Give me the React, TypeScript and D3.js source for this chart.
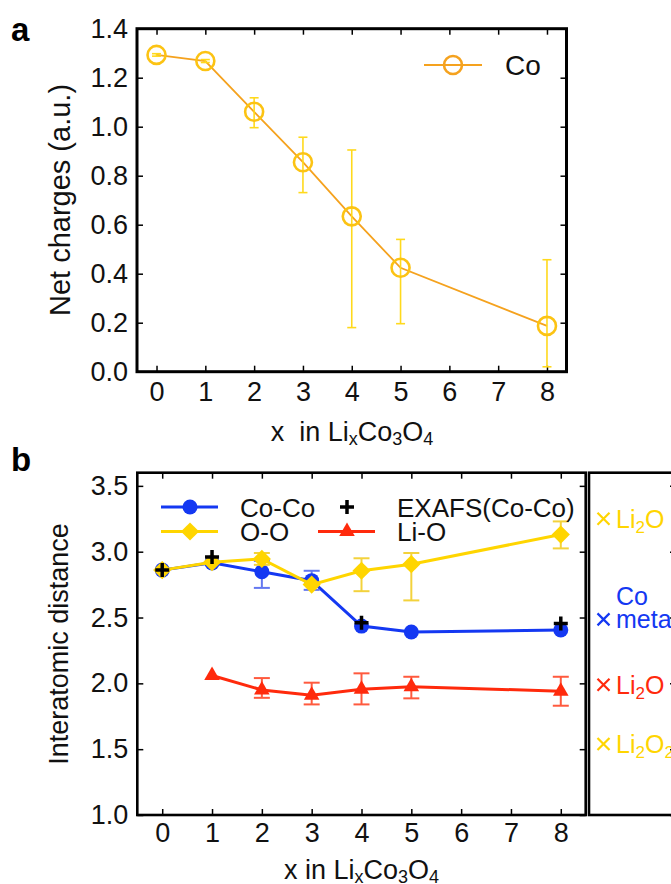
import * as d3 from "d3";
import React, { useEffect, useRef } from "react";

const W = 671;
const H = 884;
const FONT = "'Liberation Sans', Arial, Helvetica, sans-serif";

// panel a : net charge on Co
const xA = [0, 1, 2, 3, 4, 5, 8];
const coCharge = [1.293, 1.268, 1.061, 0.855, 0.634, 0.424, 0.187];
const coChargeLo = [1.288, 1.262, 0.996, 0.731, 0.18, 0.196, 0.02];
const coChargeHi = [1.298, 1.274, 1.118, 0.957, 0.905, 0.54, 0.457];
const xTicks = [0, 1, 2, 3, 4, 5, 6, 7, 8];
const yTicksA = [0, 0.2, 0.4, 0.6, 0.8, 1.0, 1.2, 1.4];

// panel b : interatomic distances
const xB = [0, 1, 2, 3, 4, 5, 8];
const coCo = [2.86, 2.915, 2.848, 2.78, 2.435, 2.39, 2.405];
const coCoLo = [null, null, 2.725, 2.71, null, null, null];
const coCoHi = [null, null, 2.93, 2.855, null, null, null];
const oO = [2.86, 2.92, 2.945, 2.75, 2.855, 2.905, 3.13];
const oOLo = [null, null, 2.9, null, 2.7, 2.63, 3.025];
const oOHi = [null, null, 2.99, null, 2.95, 2.99, 3.23];
const xLiO = [1, 2, 3, 4, 5, 8];
const liO = [2.06, 1.95, 1.91, 1.955, 1.975, 1.94];
const liOLo = [null, 1.89, 1.84, 1.84, 1.886, 1.83];
const liOHi = [null, 2.04, 2.005, 2.076, 2.05, 2.05];
const xExafs = [0, 1, 4, 8];
const exafs = [2.86, 2.96, 2.46, 2.455];
const yTicksB = [1.0, 1.5, 2.0, 2.5, 3.0, 3.5];

// reference compounds in the side strip
const refValues = [3.25, 2.486, 1.99, 1.54];
const refKinds = ["oo", "coco", "lio", "oo"];
const refLabels = ["Li_2O", "Co\nmetal", "Li_2O", "Li_2O_2"];

const colors = {
  coLine: "#f5a21e",
  coMarker: "#fcc313",
  coErr: "#ffd91c",
  coco: "#1438f2",
  cocoErr: "#6478f0",
  oo: "#ffd500",
  ooErr: "#f3d23c",
  lio: "#ff2a0c",
  lioErr: "#ff5a3e",
};

// appends text with "_x" subscripts
function richText(g, str, x, y, fs, subFs, shift, color) {
  const t = g.append("text").attr("x", x).attr("y", y)
    .attr("font-family", FONT).attr("font-size", fs).attr("fill", color);
  const parts = str.split(/(_.)/).filter(p => p.length);
  let down = false;
  parts.forEach(p => {
    if (p.startsWith("_")) {
      t.append("tspan").attr("font-size", subFs).attr("dy", shift).text(p.slice(1));
      down = true;
    } else {
      t.append("tspan").attr("dy", down ? -shift : 0).text(p);
      down = false;
    }
  });
  return t;
}

function frameAxes(svg, x, y, yTicks, opts) {
  const [x0, x1] = x.range();
  const [y0, y1] = y.range();
  const style = g => {
    g.select(".domain").remove();
    g.selectAll("line").attr("stroke", "#000").attr("stroke-width", 1.5);
    g.selectAll("text").attr("font-family", FONT).attr("font-size", 27).attr("fill", "#111");
  };
  svg.append("g").attr("transform", `translate(0,${y0})`)
    .call(d3.axisBottom(x).tickValues(xTicks).tickSize(-6).tickPadding(opts.xPad).tickFormat(d3.format("d")))
    .call(style);
  svg.append("g").attr("transform", `translate(0,${y1})`)
    .call(d3.axisTop(x).tickValues(xTicks).tickSize(-6).tickFormat(() => ""))
    .call(style);
  svg.append("g").attr("transform", `translate(${x0},0)`)
    .call(d3.axisLeft(y).tickValues(yTicks).tickSize(-6).tickPadding(9).tickFormat(d3.format(".1f")))
    .call(style);
  svg.append("g").attr("transform", `translate(${x1},0)`)
    .call(d3.axisRight(y).tickValues(yTicks).tickSize(-6).tickFormat(() => ""))
    .call(style);
  svg.append("rect")
    .attr("x", x0).attr("y", y1).attr("width", x1 - x0).attr("height", y0 - y1)
    .attr("fill", "none").attr("stroke", "#000").attr("stroke-width", opts.frame);
}

function errorBars(g, x, y, xs, lo, hi, color, width, cap) {
  xs.forEach((xv, i) => {
    if (lo[i] == null || hi[i] == null) return;
    const cx = x(xv);
    g.append("line").attr("x1", cx).attr("x2", cx).attr("y1", y(lo[i])).attr("y2", y(hi[i]))
      .attr("stroke", color).attr("stroke-width", width);
    [lo[i], hi[i]].forEach(v => {
      g.append("line").attr("x1", cx - cap).attr("x2", cx + cap).attr("y1", y(v)).attr("y2", y(v))
        .attr("stroke", color).attr("stroke-width", width);
    });
  });
}

const diamond = d3.symbol().type(d3.symbolSquare).size(165)();
const triangle = d3.symbol().type(d3.symbolTriangle).size(105)();

const App = () => {
  const svgRef = useRef(null);

  useEffect(() => {
    const svg = d3.select(svgRef.current);
    svg.selectAll("*").remove();

    // ---------- panel a ----------
    const xa = d3.scaleLinear().domain([-0.4, 8.4]).range([137, 566.5]);
    const ya = d3.scaleLinear().domain([0, 1.4]).range([371.7, 28.7]);
    frameAxes(svg, xa, ya, yTicksA, { xPad: 10, frame: 3 });

    const ga = svg.append("g");
    ga.append("path")
      .datum(xA.map((v, i) => [v, coCharge[i]]))
      .attr("fill", "none").attr("stroke", colors.coLine).attr("stroke-width", 1.8)
      .attr("d", d3.line().x(d => xa(d[0])).y(d => ya(d[1])));
    errorBars(ga, xa, ya, xA, coChargeLo, coChargeHi, colors.coErr, 1.6, 4.5);
    ga.selectAll("circle.co").data(xA).enter().append("circle")
      .attr("cx", d => xa(d)).attr("cy", (d, i) => ya(coCharge[i])).attr("r", 9)
      .attr("fill", "none").attr("stroke", colors.coMarker).attr("stroke-width", 2.6);

    // legend a
    ga.append("line").attr("x1", 424).attr("x2", 482).attr("y1", 65).attr("y2", 65)
      .attr("stroke", colors.coLine).attr("stroke-width", 1.8);
    ga.append("circle").attr("cx", 453).attr("cy", 65).attr("r", 9)
      .attr("fill", "none").attr("stroke", colors.coLine).attr("stroke-width", 2.6);
    ga.append("text").attr("x", 505).attr("y", 75).attr("font-family", FONT)
      .attr("font-size", 28).attr("fill", "#111").text("Co");

    // axis titles a
    svg.append("text").attr("transform", `translate(70,200) rotate(-90)`)
      .attr("text-anchor", "middle").attr("font-family", FONT).attr("font-size", 29)
      .attr("fill", "#111").text("Net charges (a.u.)");
    richText(svg, "x\u00a0\u00a0in Li_xCo_3O_4", 352, 441, 27, 18, 4, "#111")
      .attr("text-anchor", "middle");
    svg.append("text").attr("x", 11).attr("y", 41).attr("font-family", FONT)
      .attr("font-weight", "bold").attr("font-size", 33).attr("fill", "#000").text("a");

    // ---------- panel b ----------
    const xb = d3.scaleLinear().domain([-0.5, 8.5]).range([137.3, 585.7]);
    const yb = d3.scaleLinear().domain([1.0, 3.6]).range([815, 472.7]);
    frameAxes(svg, xb, yb, yTicksB, { xPad: 8, frame: 2.6 });

    const gb = svg.append("g");
    const lineB = d3.line().x(d => xb(d[0])).y(d => yb(d[1]));

    // Li-O
    gb.append("path").datum(xLiO.map((v, i) => [v, liO[i]]))
      .attr("fill", "none").attr("stroke", colors.lio).attr("stroke-width", 3).attr("d", lineB);
    errorBars(gb, xb, yb, xLiO, liOLo, liOHi, colors.lioErr, 2, 8);
    gb.selectAll("path.lio").data(xLiO).enter().append("path")
      .attr("d", triangle).attr("fill", colors.lio)
      .attr("transform", (d, i) => `translate(${xb(d)},${yb(liO[i])})`);

    // Co-Co
    gb.append("path").datum(xB.map((v, i) => [v, coCo[i]]))
      .attr("fill", "none").attr("stroke", colors.coco).attr("stroke-width", 3).attr("d", lineB);
    errorBars(gb, xb, yb, xB, coCoLo, coCoHi, colors.cocoErr, 2, 8);
    gb.selectAll("circle.coco").data(xB).enter().append("circle")
      .attr("cx", d => xb(d)).attr("cy", (d, i) => yb(coCo[i])).attr("r", 7.5)
      .attr("fill", colors.coco);

    // O-O
    gb.append("path").datum(xB.map((v, i) => [v, oO[i]]))
      .attr("fill", "none").attr("stroke", colors.oo).attr("stroke-width", 3).attr("d", lineB);
    errorBars(gb, xb, yb, xB, oOLo, oOHi, colors.ooErr, 2, 8);
    gb.selectAll("path.oo").data(xB).enter().append("path")
      .attr("d", diamond).attr("fill", colors.oo)
      .attr("transform", (d, i) => `translate(${xb(d)},${yb(oO[i])}) rotate(45)`);

    // EXAFS plus signs
    const plus = (g, cx, cy) => {
      g.append("path").attr("d", `M${cx - 7},${cy}H${cx + 7}M${cx},${cy - 7}V${cy + 7}`)
        .attr("stroke", "#000").attr("stroke-width", 3.5).attr("fill", "none");
    };
    xExafs.forEach((v, i) => plus(gb, xb(v), yb(exafs[i])));

    // legend b
    const legRow = (lx, ly, color, mark, label) => {
      if (color) {
        gb.append("line").attr("x1", lx - 29).attr("x2", lx + 28).attr("y1", ly).attr("y2", ly)
          .attr("stroke", color).attr("stroke-width", 3);
      }
      mark(lx, ly);
      gb.append("text").attr("x", lx + 50).attr("y", ly + 9.5).attr("font-family", FONT)
        .attr("font-size", 26).attr("fill", "#111").text(label);
    };
    legRow(190, 507, colors.coco, (x, y) => gb.append("circle").attr("cx", x).attr("cy", y)
      .attr("r", 7.5).attr("fill", colors.coco), "Co-Co");
    legRow(190, 531.5, colors.oo, (x, y) => gb.append("path").attr("d", diamond)
      .attr("fill", colors.oo).attr("transform", `translate(${x},${y}) rotate(45)`), "O-O");
    legRow(347, 507, null, (x, y) => plus(gb, x, y), "EXAFS(Co-Co)");
    legRow(347, 531.5, colors.lio, (x, y) => gb.append("path").attr("d", triangle)
      .attr("fill", colors.lio).attr("transform", `translate(${x},${y})`), "Li-O");

    // side strip with reference compounds
    const sx0 = 589, sx1 = 676;
    const gs = svg.append("g");
    gs.append("g").attr("transform", `translate(${sx1},0)`)
      .call(d3.axisRight(yb).tickValues(yTicksB).tickSize(-6).tickFormat(() => ""))
      .call(g => { g.select(".domain").remove(); g.selectAll("line").attr("stroke", "#000").attr("stroke-width", 1.5); });
    gs.append("rect").attr("x", sx0).attr("y", 472.7).attr("width", sx1 - sx0).attr("height", 815 - 472.7)
      .attr("fill", "none").attr("stroke", "#000").attr("stroke-width", 2.6);
    refValues.forEach((v, i) => {
      const color = colors[refKinds[i]];
      const cy = yb(v);
      const cx = 603.5;
      gs.append("path").attr("d", `M${cx - 6},${cy - 6}L${cx + 6},${cy + 6}M${cx - 6},${cy + 6}L${cx + 6},${cy - 6}`)
        .attr("stroke", color).attr("stroke-width", 2.2).attr("fill", "none");
      const lines = refLabels[i].split("\n");
      lines.forEach((ln, j) => {
        const ly = cy + 9 - (lines.length - 1 - j) * 23.5;
        richText(gs, ln, 616, ly, 25, 17, 5, color);
      });
    });

    svg.append("text").attr("x", 11).attr("y", 471).attr("font-family", FONT)
      .attr("font-weight", "bold").attr("font-size", 33).attr("fill", "#000").text("b");
    svg.append("text").attr("transform", `translate(68,644) rotate(-90)`)
      .attr("text-anchor", "middle").attr("font-family", FONT).attr("font-size", 27)
      .attr("fill", "#111").text("Interatomic distance");
    richText(svg, "x in Li_xCo_3O_4", 361.5, 879, 27, 18, 4, "#111")
      .attr("text-anchor", "middle");
  }, []);

  return (
    <svg ref={svgRef} width={W} height={H}
      style={{ position: "absolute", left: 0, top: 0, background: "#fff" }} />
  );
};

export default App;
